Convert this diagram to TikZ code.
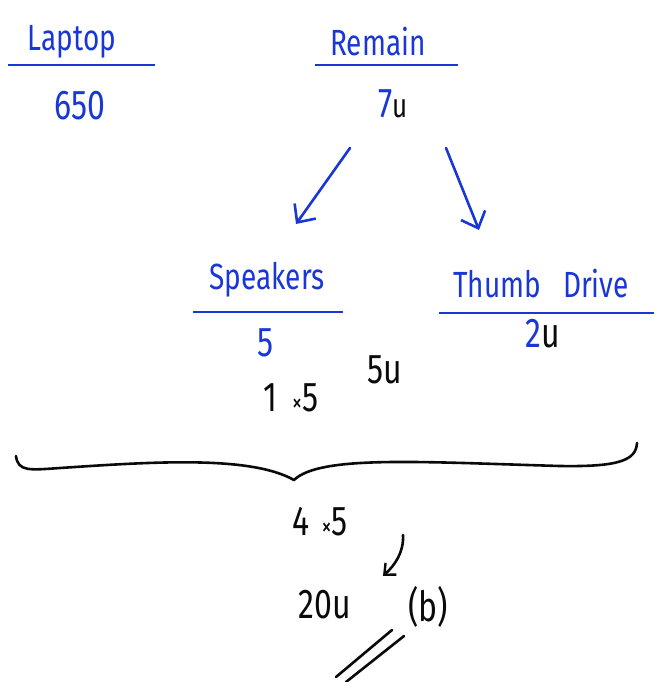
\documentclass[tikz,border=0pt]{standalone}
\usepackage{fontspec}
\setmainfont{Fira Sans}
\usetikzlibrary{arrows.meta}
\definecolor{hand}{RGB}{25,55,215}
\definecolor{ink}{RGB}{10,10,10}
\newcommand\hw[1]{\scalebox{1}[1.3]{#1}}
\begin{document}
\begin{tikzpicture}[x=1pt,y=-1pt,
  lbl/.style={font=\fontsize{28}{32}\selectfont, inner sep=0pt},
  big/.style={font=\fontsize{32}{36}\selectfont, inner sep=0pt},
  bluetxt/.style={lbl, text=hand},
  blacktxt/.style={lbl, text=ink},
  rule/.style={draw=hand, line width=2.8pt},
  pen/.style={line width=2.6pt, line cap=round, line join=round},
  barb/.style={-{Straight Barb[length=14pt,width=26pt,line width=2.6pt]}}
]
\useasboundingbox (0,0) rectangle (654,682);
% Laptop
\node[bluetxt] (laptop) at (72,42) {\hw{Laptop}};
\coordinate (l1) at (8,65); \coordinate (l2) at (155,65);
\draw[rule] (l1) -- (l2);
\node[big, text=hand] (v650) at (80,106) {\hw{650}};
% Remain
\node[bluetxt] (remain) at (378,42) {\hw{Remain}};
\coordinate (r1) at (315,65); \coordinate (r2) at (458,65);
\draw[rule] (r1) -- (r2);
\node[big] (v7u) at (393,104) {\hw{\textcolor{hand}{7}\textcolor{ink}{\fontsize{26}{28}\selectfont u}}};
% arrows
\coordinate (a1s) at (350,148); \coordinate (a1e) at (296,224);
\coordinate (a2s) at (446,148); \coordinate (a2e) at (479,230);
\draw[pen, draw=hand, barb] (a1s) -- (a1e);
\draw[pen, draw=hand, barb] (a2s) -- (a2e);
% Speakers
\node[bluetxt] (speakers) at (267,280) {\hw{Speakers}};
\coordinate (s1) at (193,312); \coordinate (s2) at (343,312);
\draw[rule] (s1) -- (s2);
\node[big, text=hand] (v5) at (266,343) {\hw{5}};
% Thumb Drive
\node[bluetxt] (thumb) at (541,284) {\hw{Thumb\hspace{22pt}Drive}};
\coordinate (t1) at (439,313); \coordinate (t2) at (654,313);
\draw[rule] (t1) -- (t2);
\node[big] (v2u) at (543,334) {\hw{\textcolor{hand}{2}\textcolor{ink}{u}}};
% black notes
\node[big, text=ink] (v5u) at (385,370) {\hw{5u}};
\node[big, text=ink] (v1x5) at (291,398) {\hw{1 \hspace{6pt}{\fontsize{20}{22}\selectfont ×}5}};
% brace
\coordinate (b1) at (16,456); \coordinate (btip) at (294,480); \coordinate (b2) at (637,443);
\draw[pen, draw=ink] (b1) .. controls (18,472) and (30,470) .. (60,468)
  .. controls (150,462) and (250,455) .. (btip)
  .. controls (320,455) and (420,462) .. (560,466)
  .. controls (620,467) and (636,460) .. (b2);
% bottom
\node[big, text=ink] (v4x5) at (320,522) {\hw{4 \hspace{4pt}{\fontsize{20}{22}\selectfont ×}5}};
\coordinate (c1) at (403,535); \coordinate (c2) at (383,576);
\draw[pen, draw=ink, -{Straight Barb[length=9pt,width=16pt,line width=2.4pt]}] (c1) .. controls (404,552) and (395,565) .. (c2);
\node[big, text=ink] (v20u) at (325,605) {\hw{20u}};
\node[big, text=ink] (vb) at (428,607) {\hw{(b)}};
\coordinate (d1s) at (392,630); \coordinate (d1e) at (336,677);
\coordinate (d2s) at (404,636); \coordinate (d2e) at (346,682);
\draw[pen, draw=ink] (d1s) -- (d1e);
\draw[pen, draw=ink] (d2s) -- (d2e);
\end{tikzpicture}
\end{document}
